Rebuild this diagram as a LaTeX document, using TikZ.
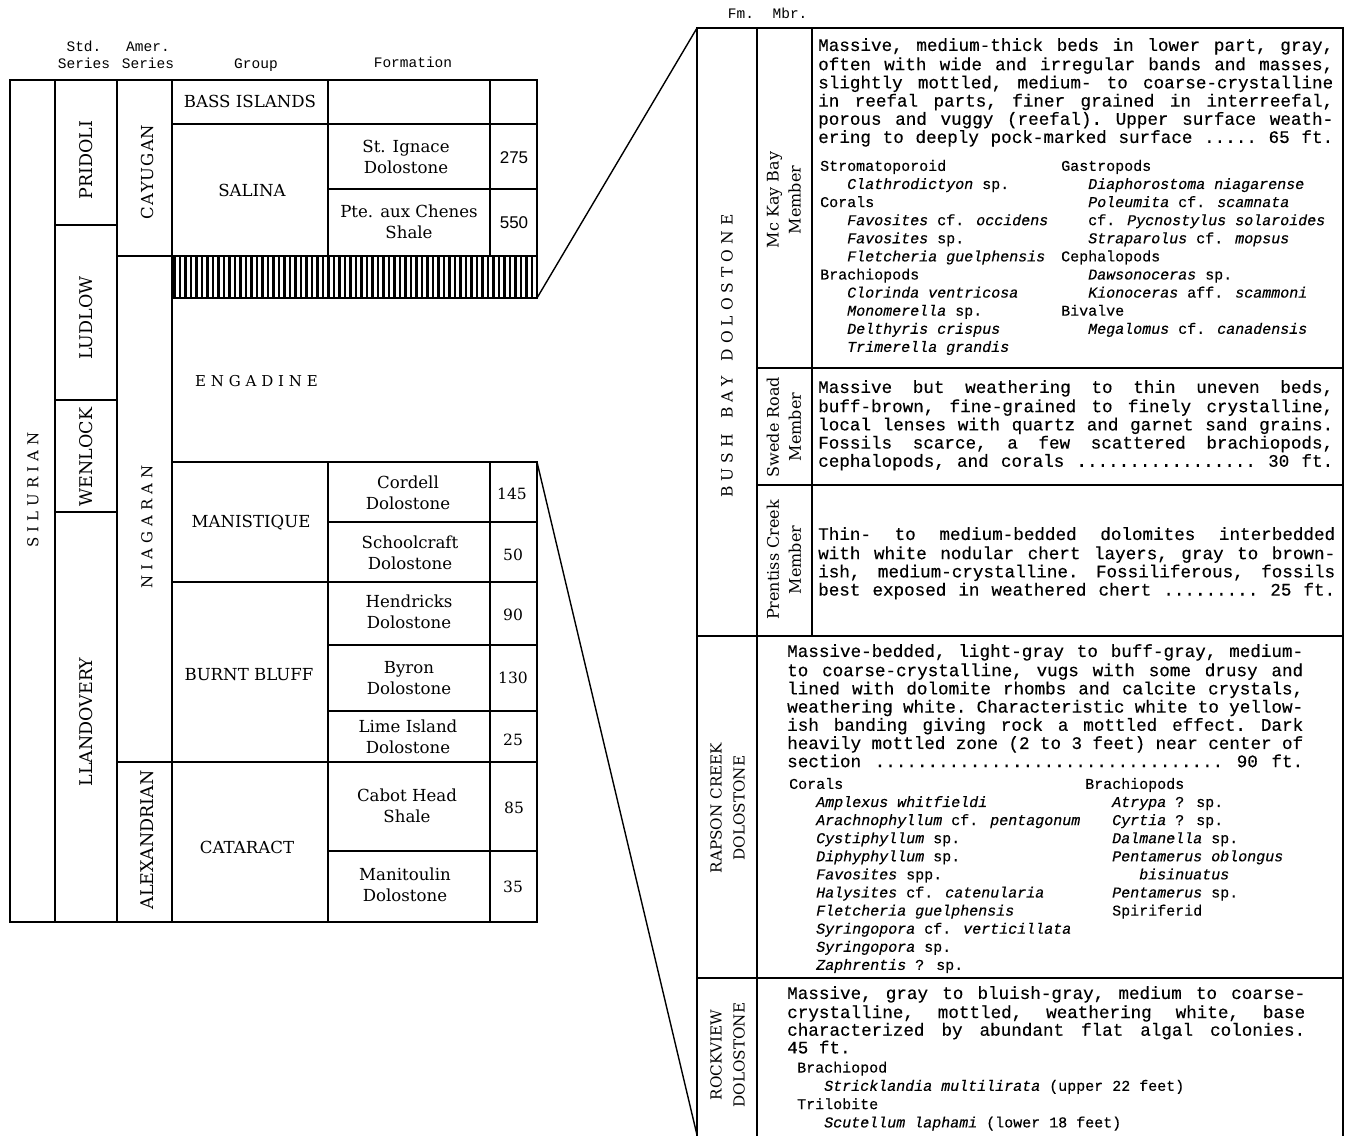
\documentclass[tikz,border=0pt]{standalone}
\usepackage{fontspec}
\setmainfont{DejaVu Serif}
\newfontfamily\twf{Liberation Mono}[FakeBold=0.35]
\newfontfamily\hdf{Liberation Mono}
\newfontfamily\numsans{Liberation Sans}
\newcommand\descfont{\twf\fontsize{17.6}{18.2}\selectfont\frenchspacing\spaceskip=0.6em plus 3em minus 0.15em\relax}
\newcommand\descfontR{\twf\fontsize{17.6}{17.7}\selectfont\frenchspacing\spaceskip=0.6em plus 3em minus 0.15em\relax}
\newcommand\fosfont{\twf\fontsize{15}{18.1}\selectfont}
\newcommand\fosfontR{\twf\fontsize{15}{18.3}\selectfont}
\newcommand\hdrfont{\hdf\fontsize{14.5}{17}\selectfont}
\newcommand\JL[2][515pt]{\makebox[#1][s]{#2}}
\newcommand\fit[1]{\textit{#1}}
\newcommand\indt{\hspace*{27pt}}
\newlength\lskern
\def\lsp#1{\ifx#1\relax\kern-\lskern\else#1\kern\lskern\expandafter\lsp\fi}
\newcommand\spaced[2]{\setlength\lskern{#1}\lsp#2\relax}
\begin{document}
\begin{tikzpicture}[x=1pt,y=-1pt,
  frame/.style={line width=1.5pt, line cap=rect},
  link/.style={line width=1.4pt},
  grp/.style={font=\fontsize{16.6}{21}\selectfont, inner sep=0pt},
  fmn/.style={font=\fontsize{16.6}{21}\selectfont, align=center, inner sep=0pt},
  num/.style={font=\fontsize{15.5}{20}\selectfont, inner sep=0pt},
  rot/.style={rotate=90, font=\fontsize{17.5}{22}\selectfont, align=center, inner sep=0pt},
  hdr/.style={font=\hdrfont, inner sep=0pt, anchor=base},
  desc/.style={font=\descfont, align=left, inner sep=0pt, anchor=north west},
  fos/.style={font=\fosfont, align=left, inner sep=0pt, anchor=north west}]
\fill[white] (0,0) rectangle (1348,1135);
\useasboundingbox (0,0) rectangle (1348,1135);

% ---------- headers
\node[hdr] (hstdA) at (84,51) {Std.};
\node[hdr] (hstdB) at (84,68) {Series};
\node[hdr] (hamA) at (148,51) {Amer.};
\node[hdr] (hamB) at (148,68) {Series};
\node[hdr] (hgrp) at (256,68) {Group};
\node[hdr] (hfm) at (413,67) {Formation};
\node[hdr] (hfmr) at (741,18) {Fm.};
\node[hdr] (hmbr) at (790,18) {Mbr.};

% ---------- hatched band
\foreach \hx in {174.5,180,...,536} {\draw[line width=2.4pt] (\hx,256) -- (\hx,298);}

% ---------- left chart frame
\draw[frame] (537,298) -- (537,80) -- (10,80) -- (10,922) -- (537,922) -- (537,462);
\draw[frame] (55,80) -- (55,922);
\draw[frame] (117,80) -- (117,922);
\draw[frame] (172,80) -- (172,922);
\draw[frame] (328,80) -- (328,256) (328,462) -- (328,922);
\draw[frame] (490,80) -- (490,256) (490,462) -- (490,922);
\draw[frame] (55,225) -- (117,225) (55,400) -- (117,400) (55,512) -- (117,512);
\draw[frame] (117,256) -- (537,256);
\draw[frame] (172,124) -- (537,124);
\draw[frame] (328,189) -- (537,189);
\draw[frame] (172,298) -- (537,298);
\draw[frame] (172,462) -- (537,462);
\draw[frame] (328,522) -- (537,522);
\draw[frame] (172,582) -- (537,582);
\draw[frame] (328,645) -- (537,645);
\draw[frame] (328,711) -- (537,711);
\draw[frame] (117,762) -- (537,762);
\draw[frame] (328,851) -- (537,851);

% ---------- left chart labels
\node[rot, font=\fontsize{15}{20}\selectfont] (silurian) at (33,490) {\spaced{5pt}{S I L U R I A N}};
\node[rot] (pridoli) at (86,160) {PRIDOLI};
\node[rot] (ludlow) at (86,318) {LUDLOW};
\node[rot] (wenlock) at (86,457) {WENLOCK};
\node[rot] (llandovery) at (86,722) {LLANDOVERY};
\node[rot, font=\fontsize{16.5}{20}\selectfont] (cayugan) at (147,172) {\spaced{1pt}{C A Y U G A N}};
\node[rot, font=\fontsize{15}{20}\selectfont] (niagaran) at (147,527) {\spaced{5pt}{N I A G A R A N}};
\node[rot] (alexandrian) at (147,840) {ALEXANDRIAN};

\node[grp] (bass) at (250,101) {BASS ISLANDS};
\node[grp] (salina) at (252,190) {SALINA};
\node[grp, anchor=west, font=\fontsize{15}{20}\selectfont] (engadine) at (195,381) {\spaced{4.8pt}{E N G A D I N E}};
\node[grp] (manistique) at (251,523) {MANISTIQUE};
\node[grp] (burnt) at (249,675) {BURNT BLUFF};
\node[grp] (cataract) at (247,847) {CATARACT};

\node[fmn] (stignace) at (406,157) {St. Ignace\\Dolostone};
\node[fmn] (pte) at (409,222) {Pte. aux Chenes\\Shale};
\node[fmn] (cordell) at (408,493) {Cordell\\Dolostone};
\node[fmn] (school) at (410,553) {Schoolcraft\\Dolostone};
\node[fmn] (hendricks) at (409,612) {Hendricks\\Dolostone};
\node[fmn] (byron) at (409,678) {Byron\\Dolostone};
\node[fmn] (lime) at (408,737) {Lime Island\\Dolostone};
\node[fmn] (cabot) at (407,806) {Cabot Head\\Shale};
\node[fmn] (manit) at (405,885) {Manitoulin\\Dolostone};

\node[num, font=\numsans\fontsize{17}{20}\selectfont] (tA) at (514,158) {275};
\node[num, font=\numsans\fontsize{17}{20}\selectfont] (tB) at (514,223) {550};
\node[num] (tC) at (512,494) {145};
\node[num] (tD) at (513,555) {50};
\node[num] (tE) at (513,615) {90};
\node[num] (tF) at (513,678) {130};
\node[num] (tG) at (513,740) {25};
\node[num] (tH) at (514,808) {85};
\node[num] (tI) at (513,887) {35};

% ---------- right panel frame
\draw[frame] (697,1135) -- (697,28) -- (1343,28) -- (1343,1135);
\draw[frame] (757,28) -- (757,1135);
\draw[frame] (812,28) -- (812,636);
\draw[frame] (757,368) -- (1343,368) (757,485) -- (1343,485);
\draw[frame] (697,636) -- (1343,636) (697,978) -- (1343,978);

% ---------- connectors
\coordinate (hatchBR) at (537,298);
\coordinate (cordTR) at (537,462);
\coordinate (panTL) at (697,28);
\coordinate (panBL) at (697,1135);
\draw[link] (hatchBR) -- (panTL);
\draw[link] (cordTR) -- (panBL);

% ---------- right panel labels
\node[rot, font=\fontsize{15.5}{20}\selectfont] (bushbay) at (727,356) {\spaced{5pt}{B U S H ~ B A Y ~ D O L O S T O N E}};
\node[rot, font=\fontsize{16}{22}\selectfont] (mkbay) at (784,200) {Mc Kay Bay\\Member};
\node[rot, font=\fontsize{16}{22}\selectfont] (swede) at (784,427) {Swede Road\\Member};
\node[rot, font=\fontsize{16}{22}\selectfont] (prentiss) at (784,560) {Prentiss Creek\\Member};
\node[rot, font=\fontsize{15.2}{23}\selectfont] (rapson) at (727.5,808) {RAPSON CREEK\\DOLOSTONE};
\node[rot, font=\fontsize{15.2}{23}\selectfont] (rockview) at (727.5,1055) {ROCKVIEW\\DOLOSTONE};

% ---------- descriptions
\node[desc] (mkdesc) at (818,38) {\strut\JL{Massive, medium-thick beds in lower part, gray,}\\
\JL{often with wide and irregular bands and masses,}\\
\JL{slightly mottled, medium- to coarse-crystalline}\\
\JL{in reefal parts, finer grained in interreefal,}\\
\JL{porous and vuggy (reefal). Upper surface weath-}\\
\JL{ering to deeply pock-marked surface ..... 65 ft.}};

\node[fos] (mkfosA) at (820,158) {\strut Stromatoporoid\\
\indt\fit{Clathrodictyon} sp.\\
Corals\\
\indt\fit{Favosites} cf. \fit{occidens}\\
\indt\fit{Favosites} sp.\\
\indt\fit{Fletcheria guelphensis}\\
Brachiopods\\
\indt\fit{Clorinda ventricosa}\\
\indt\fit{Monomerella} sp.\\
\indt\fit{Delthyris crispus}\\
\indt\fit{Trimerella grandis}};

\node[fos] (mkfosB) at (1061,158) {\strut Gastropods\\
\indt\fit{Diaphorostoma niagarense}\\
\indt\fit{Poleumita} cf. \fit{scamnata}\\
\indt cf. \fit{Pycnostylus solaroides}\\
\indt\fit{Straparolus} cf. \fit{mopsus}\\
Cephalopods\\
\indt\fit{Dawsonoceras} sp.\\
\indt\fit{Kionoceras} aff. \fit{scammoni}\\
Bivalve\\
\indt\fit{Megalomus} cf. \fit{canadensis}};

\node[desc] (swdesc) at (818,380) {\strut\JL{Massive but weathering to thin uneven beds,}\\
\JL{buff-brown, fine-grained to finely crystalline,}\\
\JL{local lenses with quartz and garnet sand grains.}\\
\JL{Fossils scarce, a few scattered brachiopods,}\\
\JL{cephalopods, and corals ................. 30 ft.}};

\node[desc] (prdesc) at (818,527) {\strut\JL[517pt]{Thin- to medium-bedded dolomites interbedded}\\
\JL[517pt]{with white nodular chert layers, gray to brown-}\\
\JL[517pt]{ish, medium-crystalline. Fossiliferous, fossils}\\
\JL[517pt]{best exposed in weathered chert ......... 25 ft.}};

\node[desc] (rpdesc) at (787,644) {\strut\JL[516pt]{Massive-bedded, light-gray to buff-gray, medium-}\\
\JL[516pt]{to coarse-crystalline, vugs with some drusy and}\\
\JL[516pt]{lined with dolomite rhombs and calcite crystals,}\\
\JL[516pt]{weathering white. Characteristic white to yellow-}\\
\JL[516pt]{ish banding giving rock a mottled effect. Dark}\\
\JL[516pt]{heavily mottled zone (2 to 3 feet) near center of}\\
\JL[516pt]{section ................................. 90 ft.}};

\node[fos] (rpfosA) at (789,776) {\strut Corals\\
\indt\fit{Amplexus whitfieldi}\\
\indt\fit{Arachnophyllum} cf. \fit{pentagonum}\\
\indt\fit{Cystiphyllum} sp.\\
\indt\fit{Diphyphyllum} sp.\\
\indt\fit{Favosites} spp.\\
\indt\fit{Halysites} cf. \fit{catenularia}\\
\indt\fit{Fletcheria guelphensis}\\
\indt\fit{Syringopora} cf. \fit{verticillata}\\
\indt\fit{Syringopora} sp.\\
\indt\fit{Zaphrentis} ? sp.};

\node[fos] (rpfosB) at (1085,776) {\strut Brachiopods\\
\indt\fit{Atrypa} ? sp.\\
\indt\fit{Cyrtia} ? sp.\\
\indt\fit{Dalmanella} sp.\\
\indt\fit{Pentamerus oblongus}\\
\indt\indt\fit{bisinuatus}\\
\indt\fit{Pentamerus} sp.\\
\indt Spiriferid};

\node[desc, font=\descfontR] (rvdesc) at (787,986) {\strut\JL[518pt]{Massive, gray to bluish-gray, medium to coarse-}\\
\JL[518pt]{crystalline, mottled, weathering white, base}\\
\JL[518pt]{characterized by abundant flat algal colonies.}\\
45 ft.};

\node[fos, font=\fosfontR] (rvfos) at (797,1059.5) {\strut Brachiopod\\
\indt\fit{Stricklandia multilirata} (upper 22 feet)\\
Trilobite\\
\indt\fit{Scutellum laphami} (lower 18 feet)};
\end{tikzpicture}
\end{document}
